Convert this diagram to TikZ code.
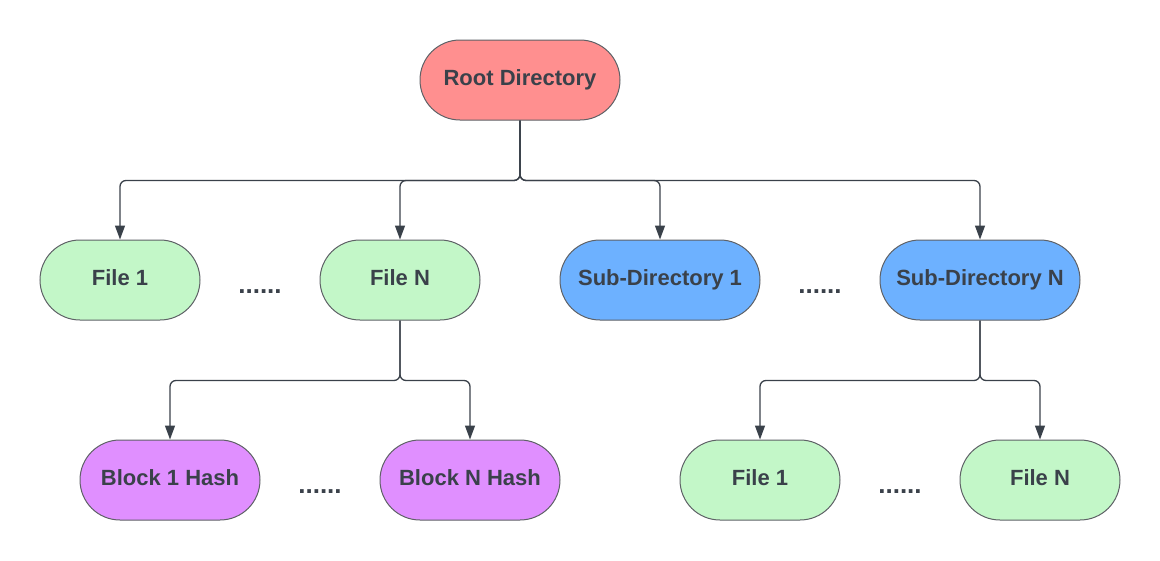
\documentclass[tikz,border=0pt]{standalone}
\usepackage{fontspec}
\setmainfont{Liberation Sans}
\usepackage{xcolor}
\usepackage{tikz}
\usetikzlibrary{arrows.meta}

\definecolor{rootred}{HTML}{FF8F8F}
\definecolor{filegreen}{HTML}{C3F7C8}
\definecolor{dirblue}{HTML}{6DB1FF}
\definecolor{hashpurple}{HTML}{E08FFF}
\definecolor{inkgray}{HTML}{3A414A}
\definecolor{edgegray}{HTML}{5E6166}

\begin{document}
\begin{tikzpicture}[x=1pt,y=-1pt,
    pill/.style={draw=edgegray,line width=1pt,rounded corners=40pt,minimum height=80pt,
        text=inkgray,font=\fontsize{22}{26}\selectfont\bfseries,inner sep=0pt,
        text height=16pt,text depth=5pt},
    rootbox/.style={pill,fill=rootred,minimum width=200pt},
    filebox/.style={pill,fill=filegreen,minimum width=160pt},
    dirbox/.style={pill,fill=dirblue,minimum width=200pt},
    hashbox/.style={pill,fill=hashpurple,minimum width=180pt},
    dots/.style={text=inkgray,font=\fontsize{26}{30}\selectfont\bfseries,inner sep=0pt},
    link/.style={draw=inkgray,line width=1.3pt,rounded corners=6pt,-{Triangle[width=10pt,length=14pt]}}]
    \useasboundingbox (0,0) rectangle (1160,560);

    \node[rootbox] (root) at (520,80) {Root Directory};

    \node[filebox] (file1) at (120,280) {File 1};
    \node[filebox] (fileN) at (400,280) {File N};
    \node[dirbox] (sub1) at (660,280) {Sub-Directory 1};
    \node[dirbox] (subN) at (980,280) {Sub-Directory N};

    \node[hashbox] (block1) at (170,480) {Block 1 Hash};
    \node[hashbox] (blockN) at (470,480) {Block N Hash};
    \node[filebox] (subfile1) at (760,480) {File 1};
    \node[filebox] (subfileN) at (1040,480) {File N};

    \node[dots] (dotsA) at (260,292) {......};
    \node[dots] (dotsB) at (820,292) {......};
    \node[dots] (dotsC) at (320,492) {......};
    \node[dots] (dotsD) at (900,492) {......};

    \draw[link] (root.south) -- ++(0,60) -| (file1.north);
    \draw[link] (root.south) -- ++(0,60) -| (fileN.north);
    \draw[link] (root.south) -- ++(0,60) -| (sub1.north);
    \draw[link] (root.south) -- ++(0,60) -| (subN.north);

    \draw[link] (fileN.south) -- ++(0,60) -| (block1.north);
    \draw[link] (fileN.south) -- ++(0,60) -| (blockN.north);

    \draw[link] (subN.south) -- ++(0,60) -| (subfile1.north);
    \draw[link] (subN.south) -- ++(0,60) -| (subfileN.north);
\end{tikzpicture}
\end{document}
